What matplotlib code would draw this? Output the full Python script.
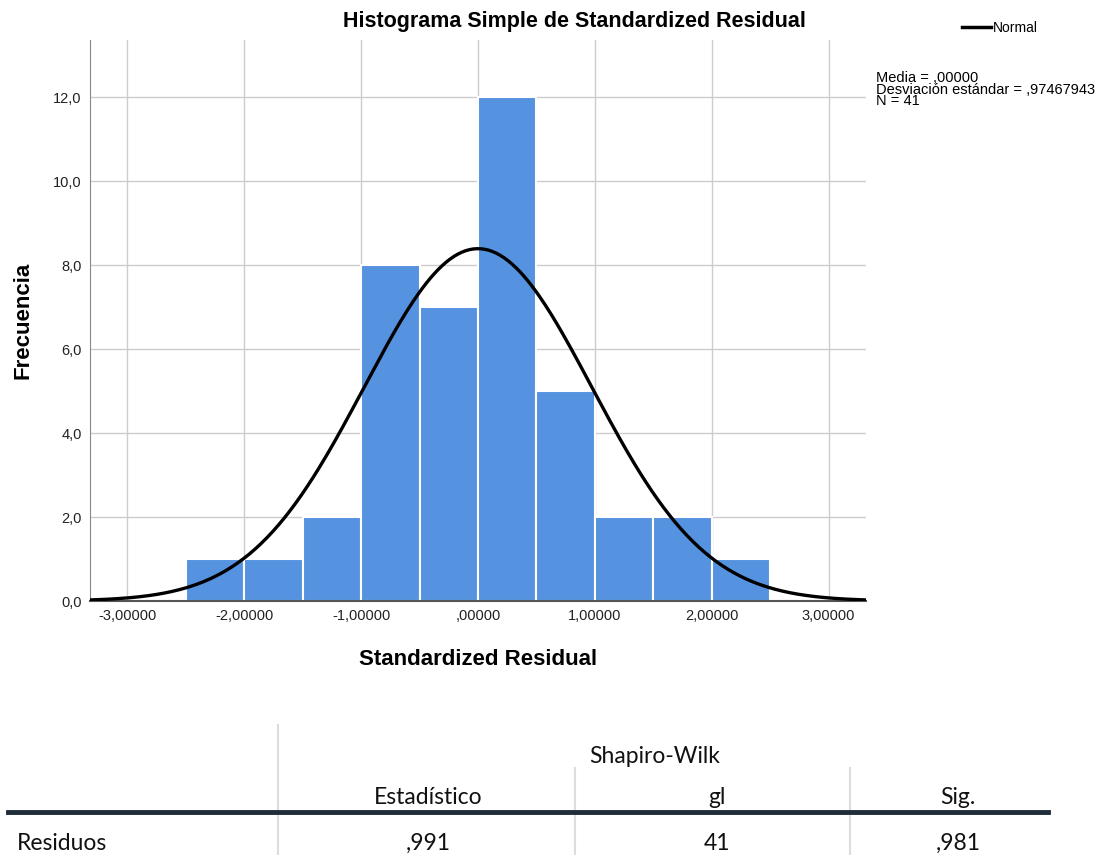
import numpy as np
import matplotlib
matplotlib.use('Agg')
import matplotlib.pyplot as plt # noqa
from matplotlib.lines import Line2D # noqa

# histogram bins (Standardized Residual) and counts
bin_edges = [-2.5, -2.0, -1.5, -1.0, -0.5, 0.0, 0.5, 1.0, 1.5, 2.0, 2.5]
counts = [1, 1, 2, 8, 7, 12, 5, 2, 2, 1]
mean = 0.0
std = 0.97467943
n = 41

x_ticks = [-3, -2, -1, 0, 1, 2, 3]
x_tick_labels = ['-3,00000', '-2,00000', '-1,00000', ',00000',
                 '1,00000', '2,00000', '3,00000']
y_ticks = [0, 2, 4, 6, 8, 10, 12]
y_tick_labels = ['0,0', '2,0', '4,0', '6,0', '8,0', '10,0', '12,0']

# Shapiro-Wilk table
table_cols = ['Estadístico', 'gl', 'Sig.']
table_row = 'Residuos'
table_vals = [',991', '41', ',981']

plt.rcParams['font.family'] = ['Liberation Sans', 'DejaVu Sans']

W, H = 1110, 855
fig = plt.figure(figsize=(W / 100, H / 100), dpi=100)

ax = fig.add_axes([90 / W, 1 - 601 / H, (866 - 90) / W, (601 - 40) / H])
widths = np.diff(bin_edges)
ax.bar(bin_edges[:-1], counts, width=widths, align='edge',
       color='#5592e0', edgecolor='white', linewidth=1.5, zorder=2)

# normal curve scaled to the histogram
xs = np.linspace(-3.32, 3.32, 400)
bw = bin_edges[1] - bin_edges[0]
ys = n * bw / (std * np.sqrt(2 * np.pi)) * np.exp(-0.5 * ((xs - mean) / std) ** 2)
ax.plot(xs, ys, color='black', linewidth=2.4, zorder=3)

ax.set_xlim(-3.32, 3.32)
ax.set_ylim(0, 13.36)
ax.set_xticks(x_ticks)
ax.set_xticklabels(x_tick_labels)
ax.set_yticks(y_ticks)
ax.set_yticklabels(y_tick_labels)
ax.tick_params(length=0, labelsize=10.5, colors='#222222', pad=6)
ax.grid(True, color='#cccccc', linewidth=1, zorder=0)
ax.set_axisbelow(True)
for s in ['top', 'right']:
    ax.spines[s].set_visible(False)
ax.spines['left'].set_color('#888888')
ax.spines['bottom'].set_color('#555555')
ax.spines['bottom'].set_linewidth(1.5)

ax.set_xlabel('Standardized Residual', fontsize=16, fontweight='bold',
              va='center')
ax.xaxis.set_label_coords(0.5, (601 - 659) / 561)
ax.set_ylabel('Frecuencia', fontsize=16, fontweight='bold', va='center')
ax.yaxis.set_label_coords((23 - 90) / 776, 0.5)

fig.text(574 / W, 1 - 22 / H, 'Histograma Simple de Standardized Residual',
         ha='center', va='center', fontsize=15.5, fontweight='bold')

# legend and stats box
fig.add_artist(Line2D([962 / W, 991 / W], [1 - 27 / H, 1 - 27 / H],
                      color='black', linewidth=2.5))
fig.text(993 / W, 1 - 28 / H, 'Normal', ha='left', va='center', fontsize=10)
fig.text(876 / W, 1 - 71 / H,
         'Media = ,00000\nDesviación estándar = ,97467943\nN = 41',
         ha='left', va='top', fontsize=10.5, linespacing=0.78)

# table below the chart
tab = fig.add_axes([0, 0, 1, 1], zorder=-1)
tab.set_xlim(0, W)
tab.set_ylim(H, 0)
tab.axis('off')
tab.plot([278, 278], [725, 855], color='#dddddd', linewidth=1.5)
tab.plot([575, 575], [768, 855], color='#dddddd', linewidth=1.5)
tab.plot([850, 850], [768, 855], color='#dddddd', linewidth=1.5)
tab.plot([8, 1048], [812, 812], color='#1f2d3a', linewidth=3.5)
tfont = dict(family=['Lato', 'DejaVu Sans'], fontsize=16.5, color='#111111')
tab.text(655, 756, 'Shapiro-Wilk', ha='center', va='center', **tfont)
col_x = [428, 717, 958]
for cx, lab, val in zip(col_x, table_cols, table_vals):
    tab.text(cx, 797, lab, ha='center', va='center', **tfont)
    tab.text(cx, 843, val, ha='center', va='center', **tfont)
tab.text(17, 843, table_row, ha='left', va='center', **tfont)

fig.savefig('out.png', dpi=100)
